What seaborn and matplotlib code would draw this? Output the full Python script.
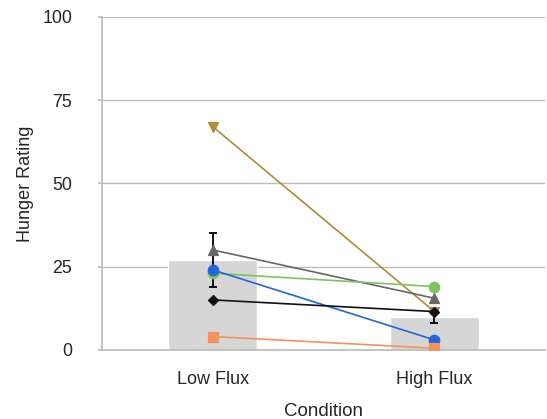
import matplotlib
matplotlib.use("Agg")
import matplotlib.pyplot as plt
import seaborn as sns
import pandas as pd

conditions = ["Low Flux", "High Flux"]
bar_means = [27, 10]
bar_errors = [8, 2]

subjects = ["S1", "S2", "S3", "S4", "S5", "S6"]
low_flux = [67, 30, 23, 24, 15, 4]
high_flux = [11.5, 15.5, 19, 3, 11.5, 0.5]

colors = ["#B5893A", "#666666", "#7DC45F", "#2266D9", "#111111", "#F5915A"]
markers = ["v", "^", "o", "o", "D", "s"]

sns.set_theme(style="white")
plt.rcParams["font.family"] = ["Liberation Sans", "DejaVu Sans"]

fig = plt.figure(figsize=(5.47, 4.19), dpi=100)
ax = fig.add_axes([0.1865, 0.165, 0.81, 0.795])

bars = pd.DataFrame({"Condition": conditions, "Rating": bar_means})
sns.barplot(data=bars, x="Condition", y="Rating", order=conditions,
            color="#D6D6D6", width=0.4, errorbar=None, ax=ax, zorder=2,
            saturation=1)
for i, (m, e) in enumerate(zip(bar_means, bar_errors)):
    ax.errorbar(i, m, yerr=e, color="black", capsize=3, lw=1.3,
                capthick=1.3, zorder=3)

rows = []
for s, lo, hi in zip(subjects, low_flux, high_flux):
    rows.append({"Subject": s, "Condition": "Low Flux", "Rating": lo})
    rows.append({"Subject": s, "Condition": "High Flux", "Rating": hi})
df = pd.DataFrame(rows)
sns.pointplot(data=df, x="Condition", y="Rating", hue="Subject",
              order=conditions, hue_order=subjects,
              palette=dict(zip(subjects, colors)), markers=markers,
              linestyles="-", dodge=False, errorbar=None, legend=False,
              markersize=7.5, linewidth=1.2, ax=ax)
for ln in ax.lines:
    ln.set_zorder(4)
    if ln.get_marker() == "D":
        ln.set_markersize(5.5)

ax.set_xlim(-0.5, 1.5)
ax.set_ylim(0, 100)
ax.set_yticks([0, 25, 50, 75, 100])
ax.yaxis.grid(True, color="#BDBDBD", lw=1.0)
ax.set_axisbelow(True)
for sp in ["top", "right"]:
    ax.spines[sp].set_visible(False)
ax.spines["left"].set_color("#BDBDBD")
ax.spines["bottom"].set_color("#BDBDBD")
ax.tick_params(axis="y", left=True, length=3, color="#BDBDBD", labelsize=12.8, pad=18.5)
ax.tick_params(axis="x", bottom=False, labelsize=13, pad=9)
ax.set_xlabel("Condition", fontsize=13.5, labelpad=11)
ax.set_ylabel("Hunger Rating", fontsize=13, labelpad=6)

fig.savefig("out.png", dpi=100)
